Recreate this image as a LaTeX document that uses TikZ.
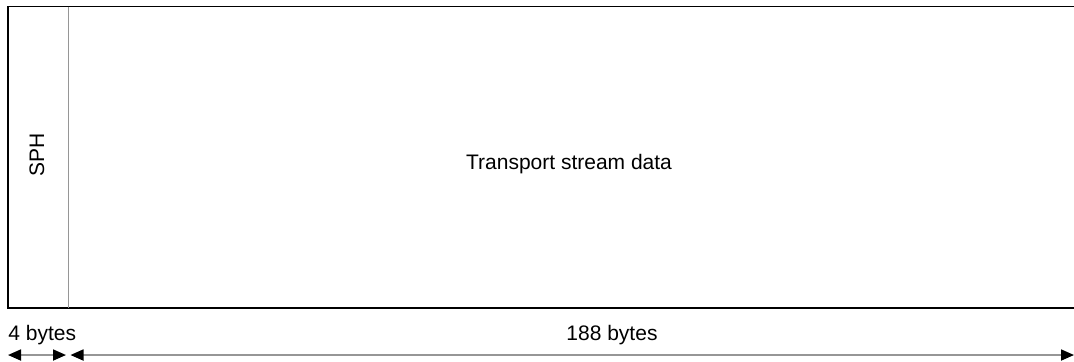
\documentclass[tikz,border=0pt]{standalone}
\usepackage{fontspec}
\setmainfont{Liberation Sans}
\usetikzlibrary{arrows.meta,positioning,calc}
\definecolor{rulegray}{RGB}{150,150,150}

\begin{document}
\begin{tikzpicture}[x=0.5pt,y=-0.5pt,every node/.style={font=\fontsize{10.5}{12}\selectfont,inner sep=0pt},
    sizearrow/.style={rulegray,line width=0.9pt,{Triangle[black,length=6.5pt,width=5.5pt]}-{Triangle[black,length=6.5pt,width=5.5pt]}}]
      \useasboundingbox (0,0) rectangle (1074,361);
      % Packet frame
      \coordinate (tl) at (8,6.5);
      \coordinate (br) at (1082,308);
      \coordinate (split) at (68,6.5);
      \draw[line width=0.7pt] (tl) rectangle (br);
      \draw[rulegray,line width=0.5pt] (split) -- (split |- br);
      % Fields
      \node[rotate=90] (sph) at (37,155) {SPH};
      \node[anchor=base] (tsdata) at (569,169) {Transport stream data};
      % Sizes
      \node[anchor=base west] (hdrlen) at (8,340) {4 bytes};
      \node[anchor=base] (datalen) at (612,340) {188 bytes};
      \coordinate (h0) at (8,355);
      \coordinate (h1) at (66,355);
      \coordinate (d0) at (70.5,355);
      \coordinate (d1) at (1074,355);
      \draw[sizearrow] (h0) -- (h1);
      \draw[sizearrow] (d0) -- (d1);
    \end{tikzpicture}
\end{document}
